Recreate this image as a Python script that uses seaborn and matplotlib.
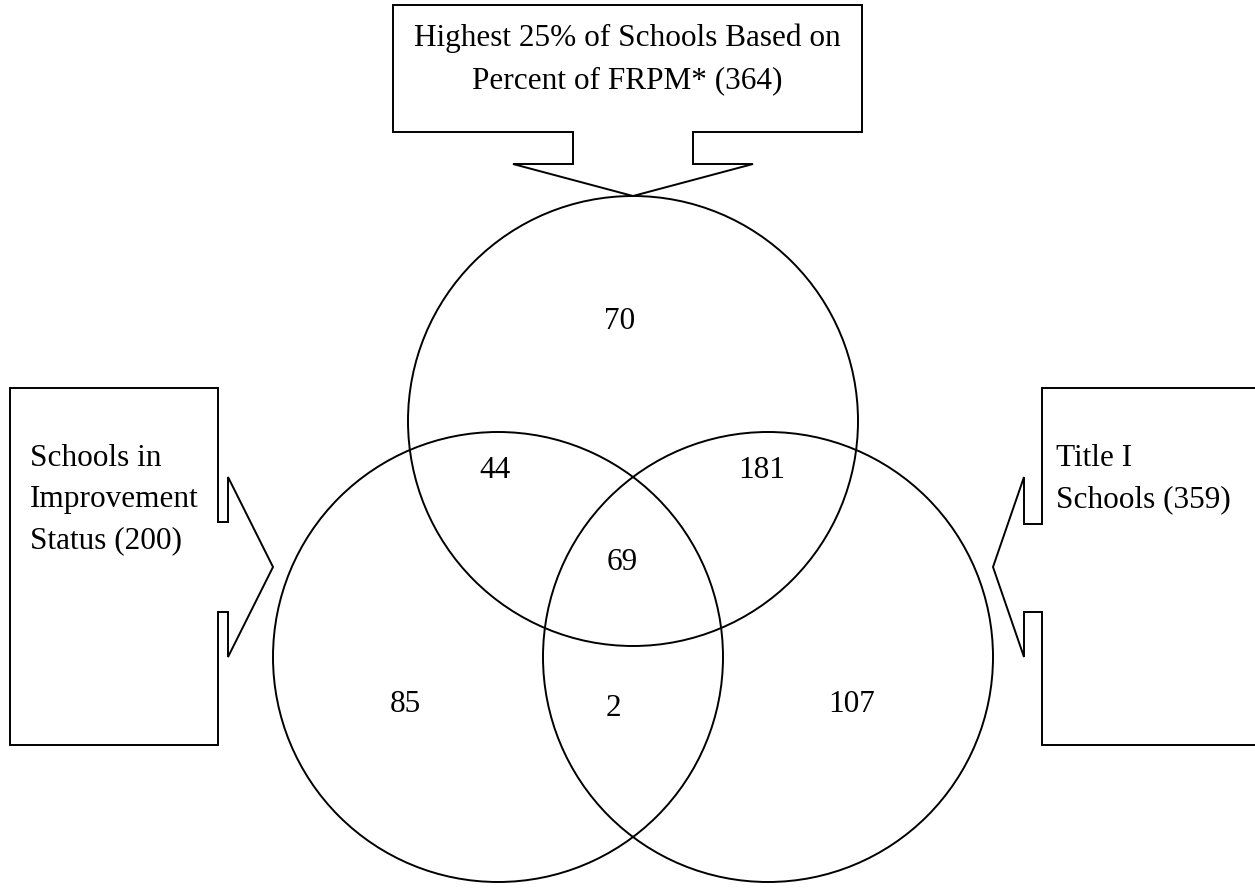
import matplotlib.pyplot as plt
import seaborn as sns
from matplotlib.patches import Circle, Polygon

# set names and sizes
set_labels = [
    ["Highest 25% of Schools Based on", "Percent of FRPM* (364)"],
    ["Schools in", "Improvement", "Status (200)"],
    ["Title I", "Schools (359)"],
]

# region counts: top only, left only, right only, top&left, top&right, left&right, all
region_names = ["top", "left", "right", "top_left", "top_right", "left_right", "all"]
region_counts = [70, 85, 107, 44, 181, 2, 69]

# layout (pixel coords)
circle_centers = {"top": (633, 422), "left": (498, 658), "right": (768, 658)}
radius = 225
region_pos = {
    "top": (620, 321), "left": (405, 705), "right": (852, 705),
    "top_left": (495, 470), "top_right": (762, 470),
    "left_right": (613, 708), "all": (622, 563),
}

sns.set_theme(style="white")
plt.rcParams["font.family"] = ["Liberation Serif", "DejaVu Serif"]
plt.rcParams["text.color"] = "black"

fig = plt.figure(figsize=(12.55, 8.95), dpi=100)
ax = fig.add_axes([0, 0, 1, 1])
ax.set_xlim(0, 1255)
ax.set_ylim(895, 0)
ax.axis("off")

lw = 1.4
fs = 22.5

for name, c in circle_centers.items():
    ax.add_patch(Circle(c, radius, fill=False, edgecolor="black", linewidth=lw))

# callouts
top_callout = [(393, 6), (862, 6), (862, 133), (693, 133), (693, 165), (753, 165),
               (633, 197), (513, 165), (573, 165), (573, 133), (393, 133)]
left_callout = [(10, 389), (218, 389), (218, 523), (228, 523), (228, 478), (273, 568),
                (228, 658), (228, 613), (218, 613), (218, 746), (10, 746)]
right_callout = [(1262, 389), (1042, 389), (1042, 525), (1024, 525), (1024, 478), (993, 568),
                 (1024, 658), (1024, 613), (1042, 613), (1042, 746), (1262, 746)]
for pts in (top_callout, left_callout, right_callout):
    ax.add_patch(Polygon(pts, closed=True, fill=False, edgecolor="black",
                         linewidth=lw, joinstyle="miter", clip_on=True))

# callout text
for i, line in enumerate(set_labels[0]):
    ax.text(627, 46 + 42 * i, line, ha="center", va="baseline", fontsize=fs)
for i, line in enumerate(set_labels[1]):
    ax.text(30, 466 + 41 * i, line, ha="left", va="baseline", fontsize=fs)
for i, line in enumerate(set_labels[2]):
    ax.text(1056, 466 + 41 * i, line, ha="left", va="baseline", fontsize=fs)

# region counts
for name, count in zip(region_names, region_counts):
    x, y = region_pos[name]
    ax.text(x, y, str(count), ha="center", va="center", fontsize=fs)

fig.savefig("out.png", dpi=100)
